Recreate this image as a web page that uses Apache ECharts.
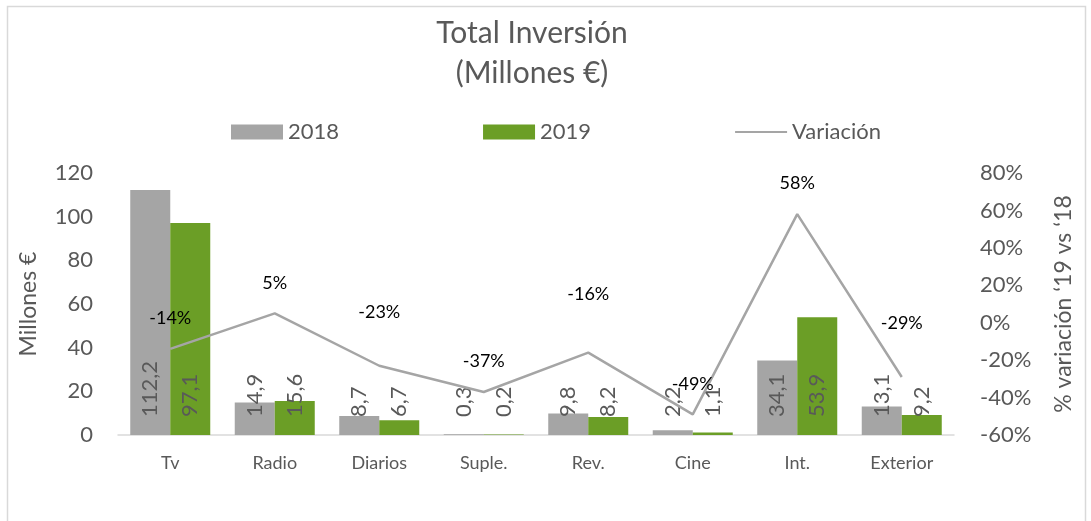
<!DOCTYPE html>
<html>
<head>
<meta charset="utf-8">
<script src="https://cdn.jsdelivr.net/npm/echarts@6/dist/echarts.min.js"></script>
<style>
  html, body { margin: 0; padding: 0; background: #fff; }
  #chart { width: 1091px; height: 521px; }
</style>
</head>
<body>
<div id="chart"></div>
<script>
; (function () {
  var categories = ['Tv', 'Radio', 'Diarios', 'Suple.', 'Rev.', 'Cine', 'Int.', 'Exterior'];
  var values2018 = [112.2, 14.9, 8.7, 0.3, 9.8, 2.2, 34.1, 13.1];
  var values2019 = [97.1, 15.6, 6.7, 0.2, 8.2, 1.1, 53.9, 9.2];
  var variacion = [-14, 5, -23, -37, -16, -49, 58, -29];

  var font = 'Lato, "Noto Sans", sans-serif';
  var textGray = '#595959';

  // algunas etiquetas de variación están subidas a mano en el original
  var labelLift = { 2: 44, 4: 49, 7: 44 };

  // etiquetas de barra con coma decimal
  var barLabel = {
    show: true,
    position: 'insideBottom',
    distance: 18,
    rotate: 90,
    align: 'left',
    verticalAlign: 'middle',
    fontSize: 22,
    fontFamily: font,
    color: textGray,
    formatter: function (p) {
      return p.value.toFixed(1).replace('.', ',');
    }
  };

  var lineData = variacion.map(function (v, i) {
    var item = { value: v };
    if (labelLift[i]) item.label = { distance: labelLift[i] };
    return item;
  });

  var chart = echarts.init(document.getElementById('chart'));
  var option = {
    animation: false,
    textStyle: { fontFamily: font },
    title: {
      text: 'Total Inversión\n(Millones €)',
      left: 527,
      textAlign: 'center',
      top: 8,
      textStyle: {
        fontSize: 30,
        fontWeight: 'normal',
        color: textGray,
        fontFamily: font,
        lineHeight: 40
      }
    },
    legend: {
      top: 116,
      left: 226,
      itemGap: 144,
      itemWidth: 52,
      itemHeight: 15,
      textStyle: { fontSize: 22, color: textGray, fontFamily: font },
      data: [
        { name: '2018', icon: 'rect' },
        { name: '2019', icon: 'rect' },
        {
          name: 'Variación',
          icon: 'path://M0,0 L52,0 L52,2 L0,2 Z',
          itemStyle: { color: '#a5a5a5', opacity: 1 }
        }
      ]
    },
    grid: {
      left: 118,
      right: 137,
      top: 173,
      bottom: 86,
      containLabel: false
    },
    xAxis: {
      type: 'category',
      data: categories,
      axisLine: { lineStyle: { color: '#d9d9d9', width: 1.5 } },
      axisTick: { show: false },
      axisLabel: { fontSize: 18, color: textGray, fontFamily: font, margin: 19 }
    },
    yAxis: [{
      type: 'value',
      min: 0,
      max: 120,
      interval: 20,
      name: 'Millones €',
      nameLocation: 'middle',
      nameGap: 78,
      nameTextStyle: { fontSize: 23, color: textGray, fontFamily: font },
      axisLine: { show: false },
      axisTick: { show: false },
      splitLine: { show: false },
      axisLabel: { fontSize: 22, color: textGray, fontFamily: font, margin: 25 }
    }, {
      type: 'value',
      min: -60,
      max: 80,
      interval: 20,
      name: '% variación ‘19 vs ‘18',
      nameLocation: 'middle',
      nameGap: 98,
      nameRotate: 90,
      nameTextStyle: { fontSize: 23, color: textGray, fontFamily: font },
      axisLine: { show: false },
      axisTick: { show: false },
      splitLine: { show: false },
      axisLabel: {
        fontSize: 22, color: textGray, fontFamily: font, margin: 26,
        formatter: '{value}%'
      }
    }],
    series: [{
      name: '2018',
      type: 'bar',
      data: values2018,
      barWidth: 40,
      barGap: '0%',
      itemStyle: { color: '#a5a5a5' },
      label: barLabel,
      z: 2
    }, {
      name: '2019',
      type: 'bar',
      data: values2019,
      barWidth: 40,
      itemStyle: { color: '#6b9e26' },
      label: barLabel,
      z: 2
    }, {
      name: 'Variación',
      type: 'line',
      yAxisIndex: 1,
      data: lineData,
      symbol: 'circle',
      symbolSize: 1,
      showSymbol: true,
      lineStyle: { color: '#a5a5a5', width: 2.5 },
      itemStyle: { color: '#a5a5a5', opacity: 0 },
      label: {
        show: true,
        position: 'top',
        distance: 21,
        fontSize: 18,
        color: '#000',
        opacity: 1,
        fontFamily: font,
        formatter: '{c}%'
      },
      z: 3
    }],
    graphic: [{
      type: 'rect',
      shape: { x: 7.5, y: 6.5, width: 1078, height: 520 },
      style: { fill: 'none', stroke: '#d9d9d9', lineWidth: 1.5 },
      silent: true
    }]
  };
  chart.setOption(option);
})();
</script>
</body>
</html>
